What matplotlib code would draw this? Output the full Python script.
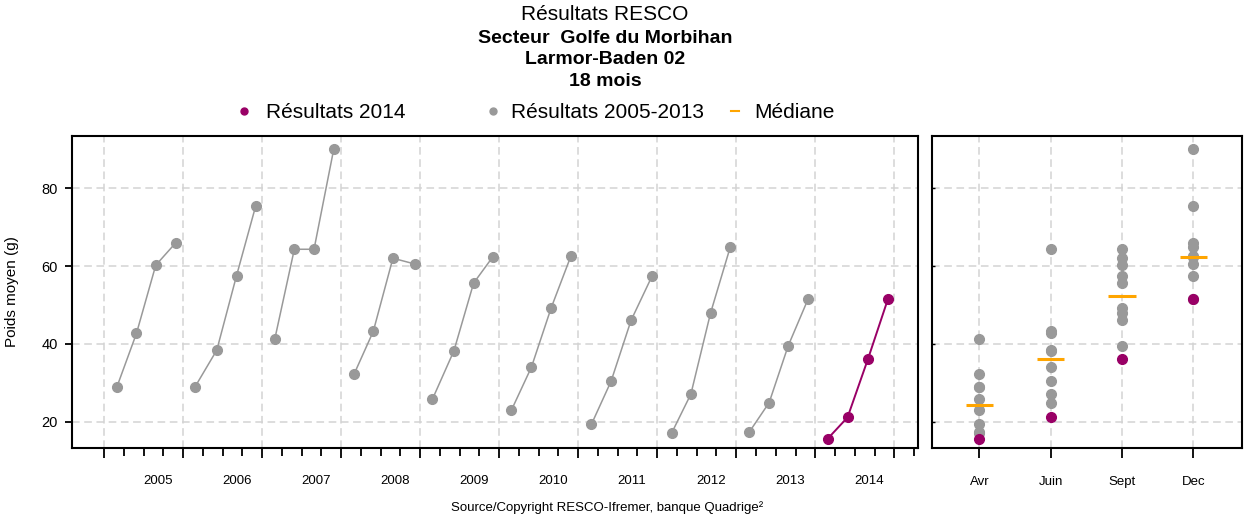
import numpy as np
import pandas as pd
import matplotlib
matplotlib.use('Agg')
import matplotlib.pyplot as plt
import matplotlib.transforms as mtransforms
from matplotlib.lines import Line2D

plt.rcParams['font.family'] = ['Liberation Sans', 'DejaVu Sans']

years = list(range(2005, 2015))
months = ['Avr', 'Juin', 'Sept', 'Dec']

sample_dates = [
    ['2005-03-02', '2005-05-31', '2005-08-28', '2005-11-29'],
    ['2006-02-26', '2006-06-06', '2006-09-05', '2006-12-02'],
    ['2007-03-01', '2007-05-30', '2007-08-29', '2007-11-28'],
    ['2008-03-01', '2008-05-29', '2008-08-28', '2008-12-08'],
    ['2009-02-27', '2009-06-06', '2009-09-05', '2009-12-02'],
    ['2010-02-27', '2010-05-30', '2010-08-29', '2010-11-28'],
    ['2011-03-03', '2011-06-02', '2011-09-02', '2011-12-09'],
    ['2012-03-09', '2012-06-05', '2012-09-04', '2012-12-04'],
    ['2013-03-03', '2013-06-02', '2013-08-29', '2013-11-28'],
    ['2014-02-27', '2014-05-30', '2014-09-02', '2014-12-02'],
]

# poids moyen (g) par campagne : Avr, Juin, Sept, Dec
weights = [
    [29.0, 42.7, 60.2, 66.0],
    [29.0, 38.4, 57.5, 75.3],
    [41.3, 64.3, 64.3, 90.0],
    [32.2, 43.2, 62.0, 60.5],
    [25.8, 38.2, 55.6, 62.3],
    [23.0, 34.0, 49.2, 62.5],
    [19.3, 30.4, 46.0, 57.5],
    [17.2, 27.1, 47.9, 64.8],
    [17.4, 24.9, 39.5, 51.4],
    [15.6, 21.1, 36.2, 51.4],
]

current_year = 2014
col_cur = '#990066'
col_hist = '#999999'
col_med = '#FFA500'
col_grid = '#d3d3d3'


def decimal_year(dates):
    idx = pd.DatetimeIndex(pd.to_datetime(dates))
    ndays = np.where(idx.is_leap_year, 366, 365)
    return idx.year + (idx.dayofyear - 1) / ndays


W, H = 1248, 519
fig = plt.figure(figsize=(W / 100, H / 100), dpi=100)

ax = fig.add_axes([72 / W, 1 - 448 / H, 846 / W, 312 / H])
ax2 = fig.add_axes([931.7 / W, 1 - 448 / H, 310 / W, 312 / H])

ylim = (13.24, 93.4)
grid_kw = dict(color=col_grid, linestyle=(0, (5, 3)), linewidth=1.1)

# --- panneau chronologique ---
for yr, dates, w in zip(years, sample_dates, weights):
    x = decimal_year(dates)
    c = col_cur if yr == current_year else col_hist
    lw = 1.4 if yr == current_year else 1.1
    ax.plot(x, w, '-o', color=c, lw=lw, ms=7, mec=c, zorder=3)

ax.set_xlim(2004.595, 2015.30)
ax.set_ylim(*ylim)
ax.set_xticks(np.arange(2005, 2016))
ax.set_xticks(np.arange(2005, 2015.3, 0.25), minor=True)
ax.set_xticklabels([])
ax.set_yticks([20, 40, 60, 80])
ax.grid(True, which='major', **grid_kw)
ax.set_axisbelow(True)
ax.tick_params(axis='x', which='major', direction='out', length=7, width=1.3, color='black')
ax.tick_params(axis='x', which='minor', direction='out', length=5.8, width=1.3, color='black')
ax.tick_params(axis='y', direction='out', length=5.3, width=1.3, pad=5, labelsize=10.5)
for s in ax.spines.values():
    s.set_linewidth(1.5)

trans = mtransforms.blended_transform_factory(ax.transData, ax.transAxes)
for yr in years:
    ax.text(yr + 0.68, -0.106, str(yr), transform=trans, ha='center', va='center', fontsize=9.5)

ax.set_ylabel('Poids moyen (g)', fontsize=11)
ax.yaxis.set_label_coords(-0.0632, 0.5)

# --- panneau saisonnier ---
pos = np.arange(len(months))
hist = [w for yr, w in zip(years, weights) if yr != current_year]
cur = [w for yr, w in zip(years, weights) if yr == current_year][0]
medians = np.median(np.array(weights), axis=0)

for w in hist:
    ax2.plot(pos, w, 'o', color=col_hist, ms=7, mec=col_hist, zorder=3)
ax2.hlines(medians, pos - 0.19, pos + 0.19, color=col_med, lw=2.2, zorder=4)
ax2.plot(pos, cur, 'o', color=col_cur, ms=7, mec=col_cur, zorder=5)

ax2.set_xlim(-0.67, 3.68)
ax2.set_ylim(*ylim)
ax2.set_xticks(pos)
ax2.set_xticklabels(months)
ax2.set_yticks([20, 40, 60, 80])
ax2.set_yticklabels([])
ax2.grid(True, **grid_kw)
ax2.set_axisbelow(True)
ax2.tick_params(axis='x', direction='out', length=7, width=1.3, pad=13, labelsize=9.5)
ax2.tick_params(axis='y', direction='in', length=2, width=1)
for s in ax2.spines.values():
    s.set_linewidth(1.5)

# --- titres ---
cx = 605 / W
fig.text(cx, 1 - 15 / H, 'Résultats RESCO', ha='center', va='center', fontsize=15)
fig.text(cx, 1 - 38.5 / H, 'Secteur  Golfe du Morbihan', ha='center', va='center',
         fontsize=14, fontweight='bold')
fig.text(cx, 1 - 60 / H, 'Larmor-Baden 02', ha='center', va='center', fontsize=14, fontweight='bold')
fig.text(cx, 1 - 81.5 / H, '18 mois', ha='center', va='center', fontsize=14, fontweight='bold')

# --- legende ---
ly = 1 - 111 / H
fig.add_artist(Line2D([244 / W], [ly], marker='o', color=col_cur, ms=5, ls='none', transform=fig.transFigure))
fig.text(266 / W, 1 - 113 / H, 'Résultats 2014', ha='left', va='center', fontsize=15)
fig.add_artist(Line2D([493 / W], [ly], marker='o', color=col_hist, ms=5, ls='none', transform=fig.transFigure))
fig.text(511 / W, 1 - 113 / H, 'Résultats 2005-2013', ha='left', va='center', fontsize=15)
fig.add_artist(Line2D([731 / W, 739 / W], [ly, ly], color=col_med, lw=1.5, transform=fig.transFigure))
fig.text(754 / W, 1 - 113 / H, 'Médiane', ha='left', va='center', fontsize=15)

fig.text(607 / W, 1 - 508 / H, 'Source/Copyright RESCO-Ifremer, banque Quadrige²',
         ha='center', va='center', fontsize=9.5)

fig.savefig('out.png', dpi=100)
